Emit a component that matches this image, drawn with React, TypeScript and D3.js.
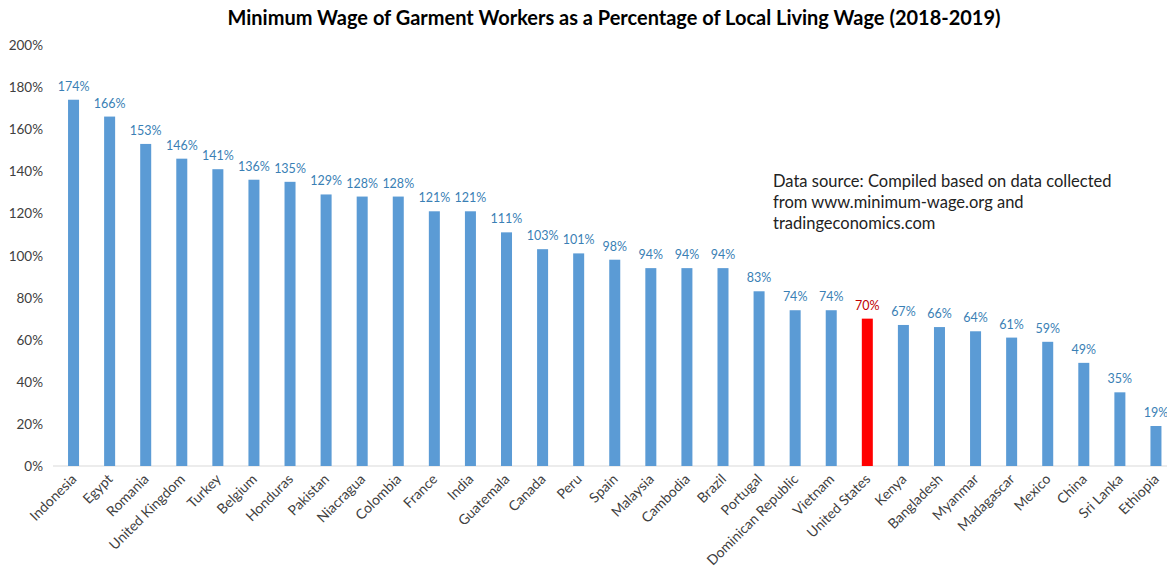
import React from "react";
import * as d3 from "d3";

const countries = ["Indonesia","Egypt","Romania","United Kingdom","Turkey","Belgium","Honduras","Pakistan","Niacragua","Colombia","France","India","Guatemala","Canada","Peru","Spain","Malaysia","Cambodia","Brazil","Portugal","Dominican Republic","Vietnam","United States","Kenya","Bangladesh","Myanmar","Madagascar","Mexico","China","Sri Lanka","Ethiopia"];
const values = [174,166,153,146,141,136,135,129,128,128,121,121,111,103,101,98,94,94,94,83,74,74,70,67,66,64,61,59,49,35,19];
const highlight = ["United States"];
const yTicks = [0,20,40,60,80,100,120,140,160,180,200];
const title = "Minimum Wage of Garment Workers as a Percentage of Local Living Wage (2018-2019)";
const sourceLines = ["Data source: Compiled based on data collected","from www.minimum-wage.org and","tradingeconomics.com"];

const W = 1167, H = 572;
const FONT = "Lato, 'Open Sans', sans-serif";

export default function App() {
  const x = d3.scaleBand<string>().domain(countries).range([55.5, 1174]).paddingInner(0.695).paddingOuter(0.3475);
  const y = d3.scaleLinear().domain([0, 200]).range([466, 45]);
  return (
    <svg width={W} height={H} style={{ position: "absolute", left: 0, top: 0, background: "#fff" }} fontFamily={FONT}>
      <text x={614} y={25} textAnchor="middle" fontSize={20} fontWeight="bold" fill="#000" textLength={773} lengthAdjust="spacingAndGlyphs">{title}</text>
      {yTicks.map(t => (
        <text key={t} x={43} y={y(t) + 5} textAnchor="end" fontSize={13.5} fill="#404040">{t}%</text>
      ))}
      <line x1={53} x2={1167} y1={y(0)} y2={y(0)} stroke="#d9d9d9" strokeWidth={1} />
      {countries.map((c, i) => {
        const bx = x(c)!;
        const bw = x.bandwidth();
        const hi = highlight.includes(c);
        const cx = bx + bw / 2;
        return (
          <g key={c}>
            <rect x={bx} y={y(values[i])} width={bw} height={y(0) - y(values[i])} fill={hi ? "#ff0000" : "#5b9bd5"} />
            <text x={cx} y={y(values[i]) - 9} textAnchor="middle" fontSize={12.5} fill={hi ? "#c00000" : "#3a7fb5"}>{values[i]}%</text>
            <text transform={`translate(${cx + 4},${y(0) + 14}) rotate(-45)`} textAnchor="end" fontSize={14} fill="#404040">{c}</text>
          </g>
        );
      })}
      {sourceLines.map((l, i) => (
        <text key={i} x={773} y={187 + i * 21} fontSize={16.5} fill="#222">{l}</text>
      ))}
    </svg>
  );
}
